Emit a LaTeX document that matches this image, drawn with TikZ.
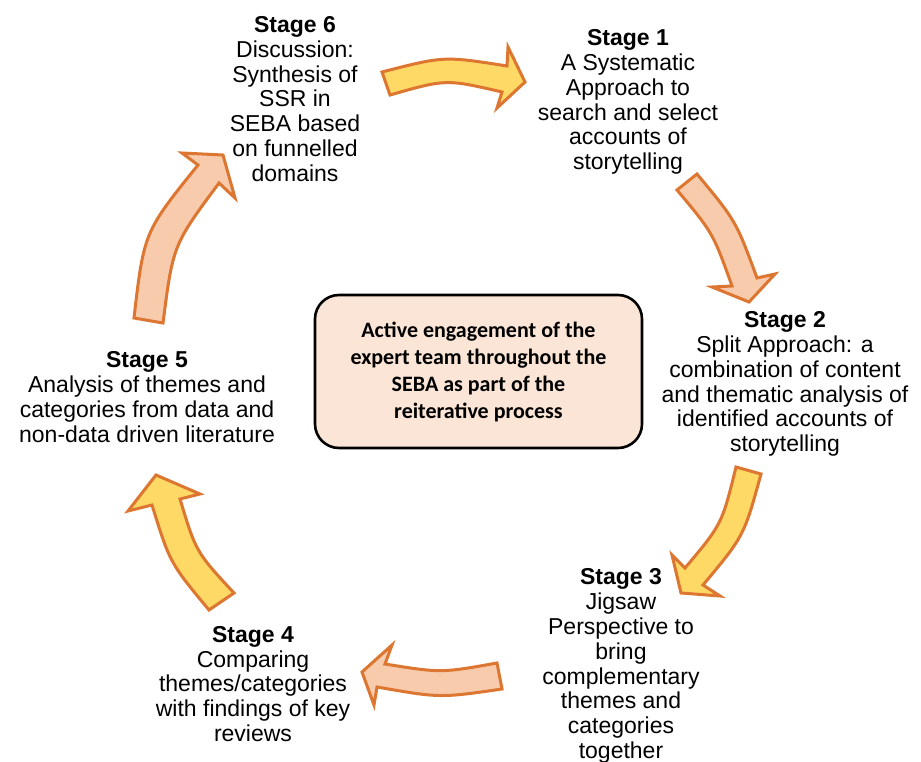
\documentclass[tikz,border=0pt]{standalone}
\usepackage{fontspec}
\setmainfont{Liberation Sans}
\newfontfamily\calibrifont{Carlito}
\definecolor{arrowyellow}{HTML}{FFD966}
\definecolor{arrowpeach}{HTML}{F8CBAD}
\definecolor{arrowedge}{HTML}{DC7630}
\definecolor{boxfill}{HTML}{FBE5D6}
\tikzset{
  stagetext/.style={align=center, inner sep=0pt, font=\fontsize{23}{24.8}\selectfont},
  yarrow/.style={fill=arrowyellow, draw=arrowedge, line width=3pt, line join=miter},
  parrow/.style={fill=arrowpeach, draw=arrowedge, line width=3pt, line join=miter},
  centerbox/.style={draw=black, line width=2.6pt, fill=boxfill, rounded corners=24pt,
    minimum width=327pt, minimum height=153pt, align=center,
    font=\calibrifont\bfseries\fontsize{22}{27}\selectfont}
}
\begin{document}
\begin{tikzpicture}[x=1pt,y=-1pt]
\useasboundingbox (0,0) rectangle (921,761);
\fill[white] (0,0) rectangle (921,761);

% centre box
\node[centerbox] (c) at (478.5,371.5) {Active engagement of the\\expert team throughout the\\SEBA as part of the\\reiterative process};

% stage texts
\node[stagetext] (s6) at (295,99) {\textbf{Stage 6}\\Discussion:\\Synthesis of\\SSR in\\SEBA based\\on funnelled\\domains};
\node[stagetext] (s1) at (628,102) {\textbf{Stage 1}\\A Systematic\\Approach to\\search and select\\accounts of\\storytelling};
\node[stagetext] (s2) at (785,384) {\textbf{Stage 2}\\Split Approach: a\\combination of content\\and thematic analysis of\\identified accounts of\\storytelling};
\node[stagetext] (s3) at (621,666) {\textbf{Stage 3}\\Jigsaw\\Perspective to\\bring\\complementary\\themes and\\categories\\together};
\node[stagetext] (s4) at (253,684) {\textbf{Stage 4}\\Comparing\\themes/categories\\with findings of key\\reviews};
\node[stagetext] (s5) at (147,397) {\textbf{Stage 5}\\Analysis of themes and\\categories from data and\\non-data driven literature};

% block arrows
% Stage 6 -> Stage 1
\draw[yarrow] (382,72) .. controls (444,56) .. (507,66) -- (508,47) -- (525,82) -- (497,108) -- (502,92) .. controls (446,79) .. (390,95) -- cycle;
% Stage 1 -> Stage 2
\draw[parrow] (697,174) .. controls (736,221) .. (757,278) -- (775,274) -- (749,302) -- (712,287) -- (732,286) .. controls (713,233) .. (677,190) -- cycle;
% Stage 2 -> Stage 3
\draw[yarrow] (761,474) .. controls (744,536) .. (703,585) -- (720,596) -- (681,593) -- (672,555) -- (685,568) .. controls (722,524) .. (736,467) -- cycle;
% Stage 3 -> Stage 4
\draw[parrow] (497,663) .. controls (441,673) .. (385,664) -- (392,645) -- (362,672) -- (374,705) -- (377,687) .. controls (440,698) .. (502,689) -- cycle;
% Stage 4 -> Stage 5
\draw[yarrow] (209,610) .. controls (170,563) .. (152,505) -- (128,511) -- (156,475) -- (200,494) -- (180,499) .. controls (196,552) .. (234,593) -- cycle;
% Stage 5 -> Stage 6
\draw[parrow] (134,318) .. controls (144,232) .. (198,165) -- (182,153) -- (223,155) -- (235,198) -- (219,183) .. controls (173,245) .. (163,323) -- cycle;
\end{tikzpicture}
\end{document}
